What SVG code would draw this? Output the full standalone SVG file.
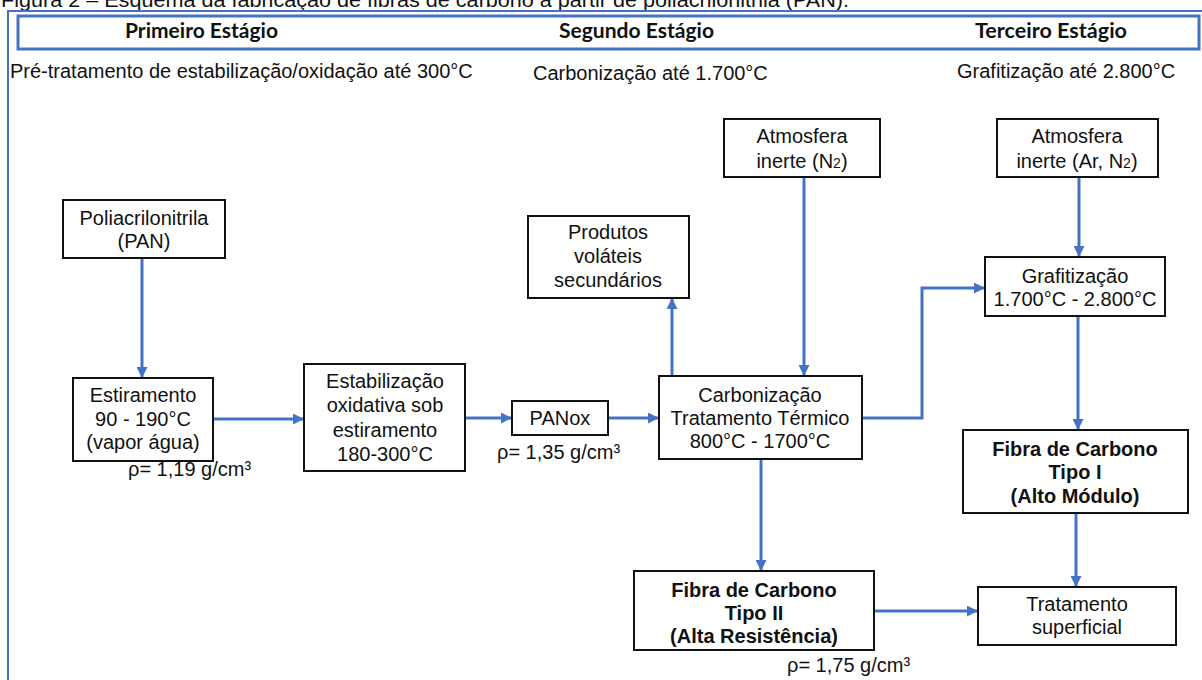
<svg xmlns="http://www.w3.org/2000/svg" width="1202" height="680" viewBox="0 0 1202 680">
  <style>
    .t { font-family: "Liberation Sans", Arial, sans-serif; font-size: 20px; fill: #111; text-anchor: middle; }
    .l { font-family: "Liberation Sans", Arial, sans-serif; font-size: 20px; fill: #111; }
    .b { font-weight: bold; }
    .h { font-family: Lato, "Liberation Sans", sans-serif; font-size: 21px; font-weight: bold; fill: #111; }
    .box { fill: #fff; stroke: #111; stroke-width: 2; }
    .frame { fill: none; stroke: #4472C4; stroke-width: 2; }
    .band { fill: #fff; stroke: #4472C4; stroke-width: 3; }
    .arrow { fill: none; stroke: #4472C4; stroke-width: 3; marker-end: url(#head); }
    .sub { font-size: 14px; }
  </style>
  <defs>
    <marker id="head" viewBox="0 0 10 10" refX="10" refY="5" markerWidth="11" markerHeight="11" markerUnits="userSpaceOnUse" orient="auto">
      <path d="M0,0 L10,5 L0,10 z" fill="#4472C4"/>
    </marker>
  </defs>
  <rect width="1202" height="680" fill="#fff"/>

  <!-- caption (top edge) -->
  <text class="l" x="1" y="7" textLength="848" lengthAdjust="spacingAndGlyphs">Figura 2 – Esquema da fabricação de fibras de carbono a partir de poliacrilonitrila (PAN).</text>

  <!-- frame and stage header band -->
  <path class="frame" d="M8,680 V11 H1202"/>
  <rect class="band" x="18" y="16" width="1181" height="33"/>
  <text class="h" x="125" y="38" textLength="153" lengthAdjust="spacingAndGlyphs">Primeiro Estágio</text>
  <text class="h" x="559" y="38" textLength="155" lengthAdjust="spacingAndGlyphs">Segundo Estágio</text>
  <text class="h" x="975" y="38" textLength="152" lengthAdjust="spacingAndGlyphs">Terceiro Estágio</text>

  <!-- stage conditions -->
  <text class="l" x="10" y="78">Pré-tratamento de estabilização/oxidação até 300°C</text>
  <text class="l" x="533" y="80">Carbonização até 1.700°C</text>
  <text class="l" x="957" y="78">Grafitização até 2.800°C</text>

  <!-- connectors -->
  <g id="connectors">
    <path class="arrow" d="M142,258 V378"/>
    <path class="arrow" d="M213,419 H304"/>
    <path class="arrow" d="M465,418 H512"/>
    <path class="arrow" d="M608,418 H659"/>
    <path class="arrow" d="M672,376 V298"/>
    <path class="arrow" d="M804,177 V376"/>
    <path class="arrow" d="M862,418 H922 V288 H985"/>
    <path class="arrow" d="M1079,177 V257"/>
    <path class="arrow" d="M1078,316 V430"/>
    <path class="arrow" d="M761,459 V571"/>
    <path class="arrow" d="M1076,513 V587"/>
    <path class="arrow" d="M874,611 H978"/>
  </g>

  <g id="pan">
    <rect class="box" x="63" y="200" width="162" height="58"/>
    <text class="t" x="144" y="225">Poliacrilonitrila</text>
    <text class="t" x="144" y="248">(PAN)</text>
  </g>

  <g id="estiramento">
    <rect class="box" x="73" y="378" width="140" height="83"/>
    <text class="t" x="143" y="402">Estiramento</text>
    <text class="t" x="143" y="426">90 - 190°C</text>
    <text class="t" x="143" y="449">(vapor água)</text>
  </g>
  <text class="l" x="128" y="476">ρ= 1,19 g/cm³</text>

  <g id="estabilizacao">
    <rect class="box" x="304" y="364" width="161" height="107"/>
    <text class="t" x="385" y="388">Estabilização</text>
    <text class="t" x="385" y="412">oxidativa sob</text>
    <text class="t" x="385" y="437">estiramento</text>
    <text class="t" x="385" y="461">180-300°C</text>
  </g>

  <g id="panox">
    <rect class="box" x="512" y="401" width="96" height="34"/>
    <text class="t" x="560" y="425">PANox</text>
  </g>
  <text class="l" x="497" y="459">ρ= 1,35 g/cm³</text>

  <g id="carbonizacao">
    <rect class="box" x="659" y="376" width="203" height="83"/>
    <text class="t" x="760" y="402">Carbonização</text>
    <text class="t" x="760" y="425">Tratamento  Térmico</text>
    <text class="t" x="760" y="448">800°C - 1700°C</text>
  </g>

  <g id="volateis">
    <rect class="box" x="528" y="216" width="161" height="82"/>
    <text class="t" x="608" y="239">Produtos</text>
    <text class="t" x="608" y="263">voláteis</text>
    <text class="t" x="608" y="287">secundários</text>
  </g>

  <g id="atmosfera-n2">
    <rect class="box" x="724" y="119" width="156" height="58"/>
    <text class="t" x="802" y="143">Atmosfera</text>
    <text class="t" x="802" y="168">inerte (N<tspan class="sub">2</tspan>)</text>
  </g>

  <g id="atmosfera-ar-n2">
    <rect class="box" x="997" y="119" width="161" height="58"/>
    <text class="t" x="1077" y="143">Atmosfera</text>
    <text class="t" x="1077" y="168">inerte (Ar, N<tspan class="sub">2</tspan>)</text>
  </g>

  <g id="grafitizacao">
    <rect class="box" x="985" y="257" width="180" height="59"/>
    <text class="t" x="1075" y="283">Grafitização</text>
    <text class="t" x="1075" y="306">1.700°C - 2.800°C</text>
  </g>

  <g id="fibra-tipo-1">
    <rect class="box" x="963" y="430" width="225" height="83"/>
    <text class="t b" x="1075" y="456">Fibra de Carbono</text>
    <text class="t b" x="1075" y="479">Tipo I</text>
    <text class="t b" x="1075" y="503">(Alto Módulo)</text>
  </g>

  <g id="fibra-tipo-2">
    <rect class="box" x="634" y="571" width="240" height="79"/>
    <text class="t b" x="754" y="597">Fibra de Carbono</text>
    <text class="t b" x="754" y="620">Tipo II</text>
    <text class="t b" x="754" y="643">(Alta Resistência)</text>
  </g>
  <text class="l" x="787" y="672">ρ= 1,75 g/cm³</text>

  <g id="tratamento">
    <rect class="box" x="978" y="587" width="198" height="58"/>
    <text class="t" x="1077" y="611">Tratamento</text>
    <text class="t" x="1077" y="634">superficial</text>
  </g>
</svg>
